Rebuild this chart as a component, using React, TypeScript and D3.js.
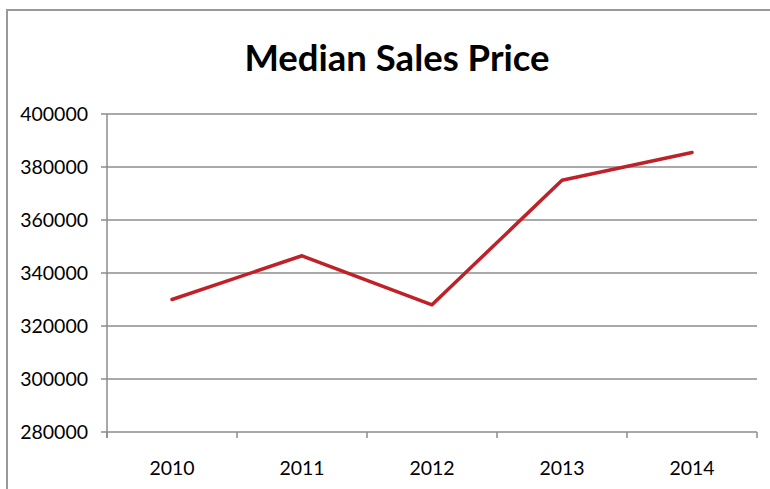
import React, { useEffect, useRef } from "react";
import * as d3 from "d3";

const categories = ["2010", "2011", "2012", "2013", "2014"];
const medianPrice = [330000, 346500, 328000, 375000, 385500];
const yTicks = [280000, 300000, 320000, 340000, 360000, 380000, 400000];
const title = "Median Sales Price";

export default function App() {
  const ref = useRef<SVGSVGElement>(null);
  useEffect(() => {
    document.body.style.margin = "0";
    const svg = d3.select(ref.current);
    svg.selectAll("*").remove();
    const left = 107, right = 757, top = 114, bottom = 432;
    const font = "Lato, 'Open Sans', sans-serif";

    svg.append("rect").attr("x", 7).attr("y", 10).attr("width", 900).attr("height", 900)
      .attr("fill", "#fff").attr("stroke", "#999").attr("stroke-width", 2);

    svg.append("text").attr("x", 397).attr("y", 71).attr("text-anchor", "middle")
      .attr("font-family", font).attr("font-weight", 700).attr("font-size", 36.5)
      .attr("fill", "#000").text(title);

    const x = d3.scaleBand<string>().domain(categories).range([left, right]);
    const y = d3.scaleLinear().domain([280000, 400000]).range([bottom, top]);

    yTicks.forEach((t) => {
      svg.append("line").attr("x1", left - 6).attr("x2", right).attr("y1", y(t)).attr("y2", y(t))
        .attr("stroke", "#8c8c8c").attr("stroke-width", 1.5);
      svg.append("text").attr("x", 88).attr("y", y(t)).attr("dy", "0.36em").attr("text-anchor", "end")
        .attr("font-family", font).attr("font-size", 19.5).attr("fill", "#000").text(String(t));
    });
    svg.append("line").attr("x1", left).attr("x2", left).attr("y1", top).attr("y2", bottom + 6)
      .attr("stroke", "#8c8c8c").attr("stroke-width", 1.5);
    const bounds = categories.map((c) => x(c) as number).concat([right]);
    bounds.forEach((b) => {
      svg.append("line").attr("x1", b).attr("x2", b).attr("y1", bottom).attr("y2", bottom + 6)
        .attr("stroke", "#8c8c8c").attr("stroke-width", 1.5);
    });
    categories.forEach((c) => {
      svg.append("text").attr("x", (x(c) as number) + x.bandwidth() / 2).attr("y", 475)
        .attr("text-anchor", "middle").attr("font-family", font).attr("font-size", 19.5)
        .attr("fill", "#000").text(c);
    });

    const line = d3.line<number>()
      .x((_, i) => (x(categories[i]) as number) + x.bandwidth() / 2)
      .y((d) => y(d));
    svg.append("path").attr("d", line(medianPrice) as string).attr("fill", "none")
      .attr("stroke", "#BE2128").attr("stroke-width", 3.5).attr("stroke-linejoin", "round")
      .attr("stroke-linecap", "round");
  }, []);
  return <svg ref={ref} width={770} height={489} style={{ display: "block" }} />;
}
